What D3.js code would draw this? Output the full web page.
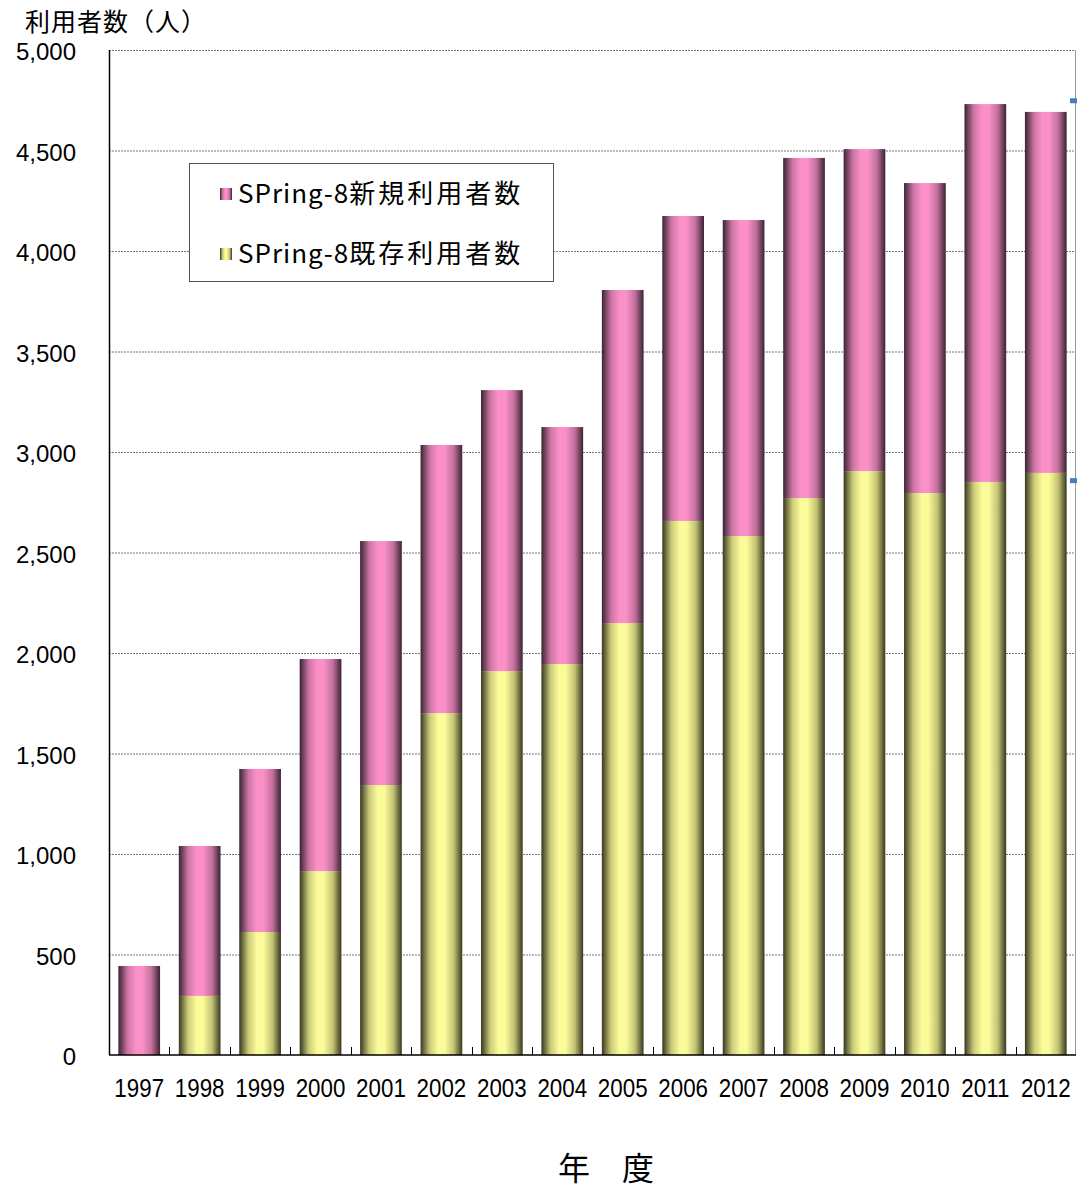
<!DOCTYPE html>
<html>
<head>
<meta charset="utf-8">
<script src="https://cdn.jsdelivr.net/npm/d3@7"></script>
<style>
  body { margin: 0; background: #fff; }
  svg text { fill: #000; }
</style>
</head>
<body>
<svg id="chart" width="1077" height="1189"></svg>
<script>
// data
var years = ["1997","1998","1999","2000","2001","2002","2003","2004","2005","2006","2007","2008","2009","2010","2011","2012"];
var existingUsers = [0, 294, 612, 915, 1343, 1701, 1910, 1945, 2149, 2657, 2582, 2771, 2905, 2796, 2851, 2896];
var newUsers = [443, 746, 811, 1055, 1214, 1334, 1398, 1179, 1657, 1517, 1572, 1692, 1602, 1542, 1880, 1796];
var yTicks = [0, 500, 1000, 1500, 2000, 2500, 3000, 3500, 4000, 4500, 5000];
var seriesLatin = ["SPring-8", "SPring-8"];
var seriesKanji = ["新規利用者数", "既存利用者数"];

var margin = {top: 50, right: 1, bottom: 134, left: 109};
var svg = d3.select("#chart");
var W = +svg.attr("width"), H = +svg.attr("height");
var width = W - margin.left - margin.right;
var height = H - margin.top - margin.bottom;

var defs = svg.append("defs");
function barGradient(id, dark, light) {
  var g = defs.append("linearGradient").attr("id", id)
    .attr("x1", "0%").attr("x2", "100%").attr("y1", "0%").attr("y2", "0%");
  g.append("stop").attr("offset", "0%").attr("stop-color", dark);
  g.append("stop").attr("offset", "22%").attr("stop-color", d3.interpolateRgb(dark, light)(0.75));
  g.append("stop").attr("offset", "42%").attr("stop-color", light);
  g.append("stop").attr("offset", "58%").attr("stop-color", light);
  g.append("stop").attr("offset", "80%").attr("stop-color", d3.interpolateRgb(dark, light)(0.7));
  g.append("stop").attr("offset", "100%").attr("stop-color", dark);
}
barGradient("gradNew", "#3a2333", "#fb90c8");
barGradient("gradOld", "#38381f", "#fbfb99");

var g = svg.append("g").attr("transform", "translate(" + margin.left + "," + margin.top + ")");

var x = d3.scaleBand().domain(years).range([0, width]).paddingInner(0.31).paddingOuter(0.155);
var xb = d3.scaleBand().domain(years).range([0, width]);
var y = d3.scaleLinear().domain([0, 5000]).range([height, 0]);

// gridlines
g.selectAll(".grid").data(yTicks.filter(function(d){ return d > 0; }))
  .enter().append("line")
  .attr("x1", 0).attr("x2", width)
  .attr("y1", function(d){ return y(d) + 0.5; }).attr("y2", function(d){ return y(d) + 0.5; })
  .attr("stroke", "#777").attr("stroke-width", 1).attr("stroke-dasharray", "2,1");

// right border
g.append("line").attr("x1", width - 0.5).attr("x2", width - 0.5).attr("y1", 0).attr("y2", height)
  .attr("stroke", "#999").attr("stroke-width", 1);

// bars
var stackData = years.map(function(yr, i){ return {year: yr, old: existingUsers[i], nw: newUsers[i]}; });
g.selectAll(".old").data(stackData).enter().append("rect")
  .attr("x", function(d){ return x(d.year); })
  .attr("width", x.bandwidth())
  .attr("y", function(d){ return y(d.old); })
  .attr("height", function(d){ return height - y(d.old); })
  .attr("fill", "url(#gradOld)");
g.selectAll(".nw").data(stackData).enter().append("rect")
  .attr("x", function(d){ return x(d.year); })
  .attr("width", x.bandwidth())
  .attr("y", function(d){ return y(d.old + d.nw); })
  .attr("height", function(d){ return y(d.old) - y(d.old + d.nw); })
  .attr("fill", "url(#gradNew)");

// axes lines
g.append("line").attr("x1", 0.5).attr("x2", 0.5).attr("y1", 0).attr("y2", height)
  .attr("stroke", "#000").attr("stroke-width", 1.5);
g.append("line").attr("x1", 0).attr("x2", width).attr("y1", height).attr("y2", height)
  .attr("stroke", "#000").attr("stroke-width", 1.5);

// x ticks between categories (pointing inward)
g.selectAll(".xt").data(years.slice(1)).enter().append("line")
  .attr("x1", function(d){ return Math.round(xb(d)) + 0.5; })
  .attr("x2", function(d){ return Math.round(xb(d)) + 0.5; })
  .attr("y1", height - 8).attr("y2", height)
  .attr("stroke", "#000").attr("stroke-width", 1);

// y tick labels
g.selectAll(".yl").data(yTicks).enter().append("text")
  .attr("x", -33).attr("y", function(d){ return y(d) + 2; })
  .attr("dy", "0.35em").attr("text-anchor", "end")
  .style("font-family", "'Liberation Sans', Arial, sans-serif").style("font-size", "24px")
  .text(function(d){ return d3.format(",")(d); });

// x tick labels (squeezed horizontally, like the original narrow font)
g.selectAll(".xl").data(years).enter().append("text")
  .attr("transform", function(d){
    return "translate(" + (xb(d) + xb.bandwidth() / 2) + "," + (height + 42) + ") scale(0.86,1)";
  })
  .attr("text-anchor", "middle")
  .style("font-family", "'Liberation Sans', Arial, sans-serif").style("font-size", "26px")
  .text(function(d){ return d; });

// titles
svg.append("text").attr("x", 25).attr("y", 31)
  .style("font-family", "'Noto Sans CJK JP', sans-serif").style("font-size", "25px")
  .style("letter-spacing", "1px")
  .text("利用者数（人）");
svg.append("text").attr("x", 606).attr("y", 1180).attr("text-anchor", "middle")
  .style("font-family", "'Noto Sans CJK JP', sans-serif").style("font-size", "32px")
  .text("年\u3000度");

// legend
var legend = svg.append("g").attr("transform", "translate(189,163)");
legend.append("rect").attr("x", 0.5).attr("y", 0.5).attr("width", 364).attr("height", 118)
  .attr("fill", "#fff").attr("stroke", "#555").attr("stroke-width", 1);
var lgFills = ["url(#gradNew)", "url(#gradOld)"];
seriesKanji.forEach(function(name, i){
  var cy = 31 + i * 60;
  legend.append("rect").attr("x", 31).attr("y", cy - 6).attr("width", 12).attr("height", 12)
    .attr("fill", lgFills[i]);
  var t = legend.append("text").attr("x", 49).attr("y", cy).attr("dy", "0.36em")
    .style("font-family", "'Noto Sans CJK JP', sans-serif").style("font-size", "26px");
  t.append("tspan").style("letter-spacing", "1px").text(seriesLatin[i]);
  t.append("tspan").style("letter-spacing", "3px").text(name);
});

// small blue markers on the right edge
var markerVals = [4750, 2860];
svg.selectAll(".mk").data(markerVals).enter().append("rect")
  .attr("x", W - 7).attr("y", function(d){ return margin.top + y(d) - 2; })
  .attr("width", 7).attr("height", 5).attr("fill", "#4a7ebb");
</script>
</body>
</html>
